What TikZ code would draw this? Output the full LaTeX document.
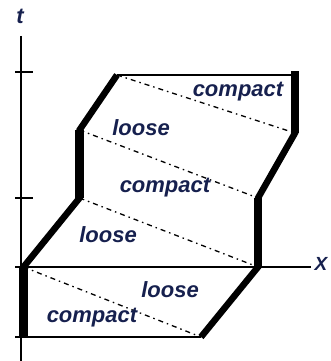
\documentclass[tikz,border=0pt]{standalone}
\usepackage{fontspec}
\setmainfont{Liberation Sans}
\usetikzlibrary{positioning}
\definecolor{labelblue}{RGB}{22,32,78}

\begin{document}
\begin{tikzpicture}[x=1pt, y=-1pt,
  worldline/.style={line width=8.5pt},
  slant/.style={line width=6.5pt, line join=miter},
  thin/.style={line width=1.4pt},
  phase/.style={line width=1.3pt, dash pattern=on 5pt off 4pt on 1.5pt off 4pt},
  lbl/.style={text=labelblue, inner sep=0pt,
    font=\fontsize{22}{24}\selectfont\bfseries\itshape}]
\useasboundingbox (0,0) rectangle (330,361);
% corners of the strip
\coordinate (A) at (23.5,337);
\coordinate (B) at (23.5,267);
\coordinate (C) at (79.5,198);
\coordinate (D) at (79.5,130);
\coordinate (E) at (117,75);
\coordinate (F) at (295,71);
\coordinate (Ft) at (295,75);
\coordinate (G) at (295,133);
\coordinate (H) at (258,198);
\coordinate (I) at (258,267);
\coordinate (J) at (201,337);
% axes and ticks
\draw[line width=2.5pt] (21,36) -- (21,361);
\draw[thin] (15,267) -- (311,267);
\foreach \y in {72,198} \draw[thin] (15,\y) -- (33,\y);
\draw[thin] (15,337) -- (J);
\draw[thin] (E) -- (Ft);
\node[lbl] (t) at (20,16) {t};
\node[lbl, font=\fontsize{19}{21}\selectfont\bfseries\itshape] (X) at (321,264) {X};
% dash-dotted lines across the strip
\draw[phase] (E) -- (G);
\draw[phase] (D) -- (H);
\draw[phase] (C) -- (I);
\draw[phase] (B) -- (J);
% thick boundaries
\draw[slant] (A) -- (B) -- (C) -- (D) -- (E);
\draw[slant] (F) -- (G) -- (H) -- (I) -- (J);
\foreach \p/\q in {A/B,C/D,F/G,H/I} \draw[worldline] (\p) -- (\q);
% labels
\node[lbl] (c1) at (238,92) {compact};
\node[lbl] (l1) at (141,128) {loose};
\node[lbl] (c2) at (165,188) {compact};
\node[lbl] (l2) at (108,235) {loose};
\node[lbl] (l3) at (170,290) {loose};
\node[lbl] (c3) at (92,318) {compact};
\end{tikzpicture}
\end{document}
